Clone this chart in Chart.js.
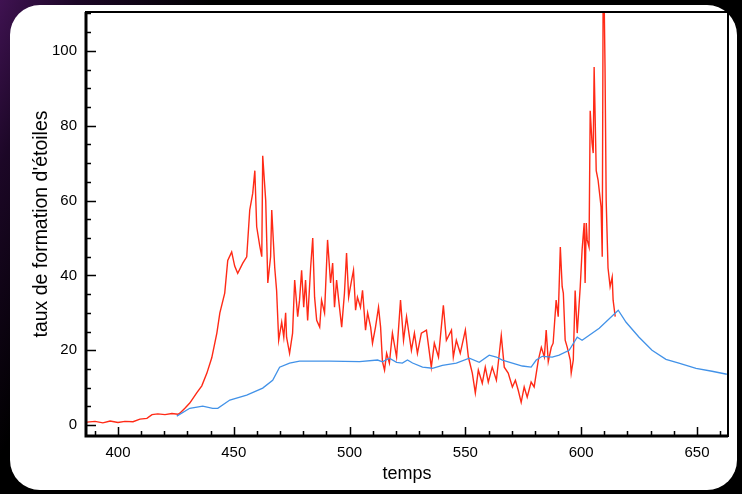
<!DOCTYPE html>
<html>
<head>
<meta charset="utf-8">
<script src="https://cdn.jsdelivr.net/npm/chart.js@4.4.1/dist/chart.umd.min.js"></script>
<style>
  html, body { margin: 0; padding: 0; }
  body {
    width: 742px; height: 494px; overflow: hidden; position: relative;
    background:
      linear-gradient(115deg, rgba(70,20,90,0.9) 0%, rgba(40,10,55,0.7) 8%, rgba(0,0,0,0) 22%),
      #000;
  }
  .panel {
    position: absolute; left: 10px; top: 5px; width: 727px; height: 485px;
    background: #fff; border-radius: 30px;
  }
  #sfr { position: absolute; left: 0; top: 0; }
</style>
</head>
<body>
<div class="panel"></div>
<canvas id="sfr" width="742" height="494"></canvas>
<script>
// star formation rate (red) and the smooth comparison run (blue)
const redT = [386.6, 390.1, 393.5, 396.6, 400, 403, 406.5, 409.5, 412.5, 414.7,
  417.2, 420.3, 423.3, 425.9, 426.7, 428.9, 431, 434, 436.2, 438.4,
  440.5, 442.7, 444, 446.1, 447.4, 449.1, 450.4, 451.7, 453.9, 455.6,
  456.9, 458.2, 459.1, 459.9, 461.2, 462.1, 462.5, 463.8, 464.7, 465.9,
  466.4, 467.7, 468.5, 469.4, 470.7, 471.6, 472.4, 472.8, 474.1, 475.4,
  476.3, 477.6, 478.4, 479.3, 480.2, 481, 481.9, 483.2, 484.1, 484.9,
  485.8, 487.1, 487.9, 489.2, 490.5, 491.8, 492.7, 493.5, 494.4, 495.3,
  496.6, 497.8, 498.7, 499.6, 500.9, 501.7, 502.6, 503.4, 504.7, 505.6,
  506.9, 507.8, 509.1, 509.9, 511.2, 512.5, 513.4, 514.2, 515.1, 516,
  517.2, 518.5, 520.3, 522, 523.3, 524.6, 526.7, 528, 529.3, 531,
  533.2, 535.3, 536.6, 538.4, 540.5, 541.8, 544, 544.8, 546.1, 547.8,
  550, 551.3, 553, 554.3, 555.6, 557.3, 558.6, 559.9, 561.6, 563.4,
  565.5, 566.8, 568.5, 570.3, 571.6, 572.8, 574.1, 575.4, 576.7, 578.4,
  579.7, 581.5, 582.8, 584.1, 584.9, 585.8, 587.1, 587.9, 589.2, 590.1,
  591, 591.8, 592.3, 593.1, 594, 595.3, 595.7, 596.6, 597.4, 598.3,
  599.6, 600.4, 601.3, 601.7, 602.2, 602.6, 603.4, 603.9, 604.7, 605.2,
  605.6, 606.5, 607.3, 608.6, 609.1, 609.5, 609.9, 610.3, 610.8, 611.6,
  612.5, 613.4, 613.8, 614.7];
const redV = [0.8, 1.0, 0.6, 1.1, 0.7, 1.0, 0.9, 1.6, 1.8, 2.8,
  3.0, 2.8, 3.1, 2.9, 3.2, 4.5, 5.9, 8.6, 10.5, 13.9,
  18, 24.6, 30, 35.3, 44, 46.3, 42.5, 40.6, 43.3, 45,
  57.5, 62, 68, 53, 48, 45, 72, 60, 38, 45,
  57.5, 42, 36, 22.7, 27.5, 23.5, 30, 23.5, 19.2, 24.6,
  38.8, 29, 33.4, 41.4, 31.5, 38.8, 28, 42.2, 50, 34.2,
  28, 26.2, 33.4, 30, 49.5, 38, 43.3, 31.5, 38.8, 33.4,
  26.2, 35.3, 46, 34.2, 38.8, 41.4, 30.7, 34.2, 31.5, 36,
  25.4, 30, 26.2, 21.9, 26.2, 31.5, 26.2, 17, 14.7, 19.2,
  16.6, 24.6, 18.2, 33.4, 22.7, 29, 20, 24.6, 19.2, 24.6,
  25.4, 15.5, 21.9, 18.2, 32, 22.7, 25.4, 18.2, 22.7, 19.2,
  25.4, 18.2, 13.9, 8.6, 14.7, 11.2, 15.5, 11.5, 15.5, 12,
  24, 15.5, 13.9, 10.2, 12, 9.4, 6.1, 10.2, 7.5, 11.5,
  10.2, 17.4, 20.8, 18.2, 25.4, 17, 20.8, 21.9, 33.4, 29,
  47.6, 37, 35.3, 22.7, 20.8, 17.4, 13.9, 17.4, 36, 24.6,
  37, 46.8, 54, 38, 54, 49.5, 47.6, 84, 75.4, 72.7,
  95.7, 68, 65.5, 58.3, 45, 118, 115, 95.7, 60, 42,
  37, 39.6, 33.4, 29];

const blueT = [425.4, 431, 436.6, 440.9, 443.1, 448.3, 455.6, 462.5, 466.8, 469.8,
  474.1, 478.4, 491.4, 504.3, 512.1, 514.2, 517.2, 520.3, 522.8, 525,
  527.2, 531.5, 535.8, 540.1, 546.1, 551.7, 556, 560.3, 563.4, 566,
  570.3, 574.6, 578.4, 580.6, 583.2, 587.5, 590.5, 594.8, 598.3, 600.4,
  607.8, 616, 619.4, 625, 630.6, 636.6, 642.2, 649.6, 656.5, 662.9];
const blueV = [2.4, 4.5, 5.1, 4.5, 4.5, 6.7, 8.0, 9.9, 12, 15.5,
  16.6, 17.1, 17.1, 17.0, 17.4, 16.9, 17.9, 16.8, 16.6, 17.4,
  16.6, 15.5, 15.2, 16, 16.6, 17.9, 16.8, 18.7, 18.2, 17.4,
  16.6, 15.8, 15.5, 17.4, 18.4, 18.2, 18.7, 20, 23.5, 22.7,
  25.9, 30.7, 27.5, 23.5, 20, 17.6, 16.6, 15.2, 14.4, 13.6];

const xTicks = [400, 450, 500, 550, 600, 650];
const yTicks = [0, 20, 40, 60, 80, 100];
const xMinorStep = 10;
const yMinorStep = 5;

const toPoints = (ts, vs) => ts.map((t, i) => ({x: t, y: vs[i]}));

// black frame plus inward major/minor tick marks
const frame = {
  id: 'frame',
  afterDraw(chart) {
    const {ctx, chartArea: a, scales: {x, y}} = chart;
    ctx.save();
    ctx.strokeStyle = '#000';
    ctx.lineWidth = 1.5;
    ctx.beginPath();
    for (let v = Math.ceil(x.min / xMinorStep) * xMinorStep; v <= x.max; v += xMinorStep) {
      const px = Math.round(x.getPixelForValue(v)) + 0.5;
      const len = xTicks.includes(v) ? 9 : 5;
      ctx.moveTo(px, a.bottom);
      ctx.lineTo(px, a.bottom - len);
    }
    for (let v = 0; v <= y.max; v += yMinorStep) {
      const py = Math.round(y.getPixelForValue(v)) + 0.5;
      const len = yTicks.includes(v) ? 10 : 5;
      ctx.moveTo(a.left, py);
      ctx.lineTo(a.left + len, py);
    }
    ctx.stroke();
    ctx.lineWidth = 2;
    ctx.strokeRect(a.left, a.top, a.right - a.left, a.bottom - a.top);
    ctx.lineWidth = 3;
    ctx.beginPath();
    ctx.moveTo(a.left, a.top);
    ctx.lineTo(a.left, a.bottom);
    ctx.lineTo(a.right, a.bottom);
    ctx.stroke();
    ctx.restore();
  }
};

const font = {family: '"Liberation Sans", Arial, sans-serif'};

// fixed axis boxes, no extra room for edge labels
const fixX = s => { s.height = 58; s.paddingLeft = 0; s.paddingRight = 0; };
const fixY = s => { s.width = 86; s.paddingTop = 0; s.paddingBottom = 0; };

new Chart(document.getElementById('sfr'), {
  type: 'line',
  data: {
    datasets: [{
      data: toPoints(blueT, blueV),
      borderColor: 'rgb(66, 146, 232)',
      borderWidth: 1.3
    }, {
      data: toPoints(redT, redV),
      borderColor: 'rgb(255, 42, 22)',
      borderWidth: 1.4
    }]
  },
  options: {
    responsive: false,
    animation: false,
    layout: {padding: {top: 12, right: 14, left: 0, bottom: 0}},
    elements: {
      line: {tension: 0},
      point: {radius: 0}
    },
    plugins: {
      legend: {display: false},
      tooltip: {enabled: false}
    },
    scales: {
      x: {
        type: 'linear',
        min: 386.2,
        max: 663.4,
        afterBuildTicks: s => { s.ticks = xTicks.map(v => ({value: v})); },
        afterFit: fixX,
        grid: {display: false, drawTicks: false},
        border: {display: false},
        ticks: {color: '#000', padding: 8, font: {...font, size: 15}},
        title: {display: true, text: 'temps', color: '#000', padding: {top: 0, bottom: 9}, font: {...font, size: 18}}
      },
      y: {
        min: -2.9,
        max: 110.4,
        afterBuildTicks: s => { s.ticks = yTicks.map(v => ({value: v})); },
        afterFit: fixY,
        grid: {display: false, drawTicks: false},
        border: {display: false},
        ticks: {color: '#000', padding: 9, font: {...font, size: 15}},
        title: {display: true, text: "taux de formation d'étoiles", color: '#000', padding: {top: 30}, font: {...font, size: 19.5}}
      }
    }
  },
  plugins: [frame]
});
</script>
</body>
</html>
